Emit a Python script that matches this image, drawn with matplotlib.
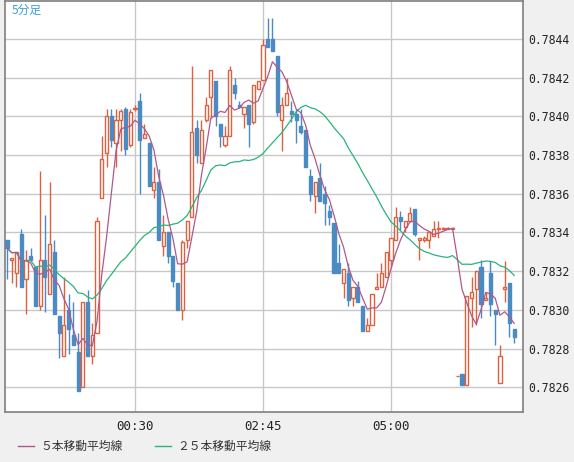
import numpy as np
import pandas as pd
import matplotlib
matplotlib.use('Agg')
import matplotlib.pyplot as plt
from matplotlib.lines import Line2D

plt.rcParams['font.family'] = ['Noto Sans CJK JP', 'DejaVu Sans']

# 5-minute candles, prices in units of 0.00001 (open, high, low, close)
opens = [78336, 78326, 78319, 78339, 78316, 78328, 78322, 78302, 78326, 78308,
         78330, 78297, 78276, 78300, 78287, 78278, 78260, 78304, 78276, 78288,
         78358, 78381, 78400, 78386, 78398, 78404, 78385, 78404, 78408, 78389,
         78386, 78362, 78366, 78333, 78340, 78328, 78314, 78300, 78336, 78348,
         78394, 78376, 78398, 78410, 78418, 78396, 78385, 78390, 78416, 78406,
         78401, 78406, 78397, 78414, 78419, 78440, 78440, 78431, 78398, 78406,
         78403, 78401, 78395, 78393, 78369, 78359, 78368, 78360, 78351, 78345,
         78324, 78314, 78319, 78306, 78312, 78302, 78289, 78292, 78311, 78312,
         78317, 78326, 78336, 78348, 78343, 78346, 78352, 78336, 78336, 78336,
         78338, 78342, 78342, 78342, 78342, 78266, 78267, 78261, 78306, 78311,
         78322, 78305, 78319, 78300, 78262, 78311, 78314, 78290]
highs = [78336, 78326, 78330, 78342, 78331, 78332, 78322, 78372, 78349, 78366,
         78336, 78297, 78317, 78308, 78304, 78288, 78304, 78310, 78293, 78348,
         78390, 78404, 78404, 78404, 78404, 78405, 78404, 78406, 78412, 78396,
         78386, 78374, 78373, 78349, 78340, 78328, 78314, 78336, 78346, 78426,
         78398, 78398, 78410, 78424, 78418, 78396, 78395, 78426, 78420, 78408,
         78405, 78406, 78416, 78418, 78440, 78451, 78451, 78431, 78410, 78420,
         78408, 78404, 78404, 78393, 78373, 78366, 78376, 78364, 78354, 78345,
         78334, 78321, 78324, 78312, 78315, 78302, 78296, 78308, 78319, 78324,
         78330, 78337, 78353, 78351, 78346, 78353, 78352, 78337, 78338, 78340,
         78346, 78346, 78343, 78343, 78343, 78266, 78267, 78307, 78317, 78320,
         78326, 78309, 78325, 78300, 78282, 78325, 78314, 78290]
lows = [78316, 78314, 78312, 78312, 78298, 78326, 78302, 78300, 78299, 78308,
        78298, 78275, 78276, 78277, 78282, 78258, 78260, 78276, 78272, 78288,
        78358, 78374, 78384, 78374, 78382, 78380, 78384, 78403, 78360, 78389,
        78364, 78358, 78336, 78328, 78324, 78312, 78300, 78295, 78332, 78348,
        78376, 78376, 78397, 78399, 78395, 78384, 78384, 78390, 78409, 78405,
        78394, 78384, 78396, 78414, 78419, 78436, 78434, 78400, 78382, 78406,
        78397, 78386, 78391, 78374, 78356, 78350, 78356, 78344, 78344, 78319,
        78319, 78306, 78302, 78302, 78304, 78289, 78289, 78292, 78311, 78312,
        78317, 78322, 78336, 78341, 78340, 78346, 78338, 78326, 78335, 78332,
        78338, 78337, 78342, 78342, 78342, 78266, 78261, 78261, 78291, 78292,
        78296, 78305, 78297, 78282, 78262, 78304, 78286, 78283]
closes = [78332, 78327, 78330, 78312, 78326, 78326, 78302, 78326, 78317, 78334,
          78298, 78288, 78292, 78290, 78282, 78258, 78304, 78276, 78287, 78346,
          78378, 78400, 78388, 78398, 78403, 78383, 78402, 78404, 78388, 78391,
          78364, 78366, 78336, 78340, 78328, 78315, 78300, 78335, 78346, 78392,
          78380, 78393, 78406, 78424, 78400, 78390, 78390, 78424, 78412, 78405,
          78405, 78396, 78416, 78418, 78437, 78436, 78434, 78402, 78406, 78412,
          78401, 78398, 78392, 78374, 78360, 78366, 78356, 78355, 78348, 78319,
          78319, 78321, 78305, 78312, 78304, 78289, 78292, 78308, 78312, 78319,
          78330, 78337, 78348, 78346, 78346, 78350, 78339, 78337, 78337, 78340,
          78342, 78342, 78342, 78342, 78342, 78266, 78261, 78307, 78309, 78320,
          78303, 78306, 78303, 78298, 78276, 78312, 78293, 78286]

tick_pos = [27, 54, 81]
tick_labels = ['00:30', '02:45', '05:00']
y_ticks = [0.7826, 0.7828, 0.7830, 0.7832, 0.7834, 0.7836, 0.7838, 0.7840, 0.7842, 0.7844]

o = np.array(opens) / 1e5
h = np.array(highs) / 1e5
l = np.array(lows) / 1e5
c = np.array(closes) / 1e5
x = np.arange(len(o))
ma5 = pd.Series(c).rolling(5, min_periods=1).mean()
ma25 = pd.Series(c).rolling(25, min_periods=1).mean()

up_col = '#dc6140'
dn_col = '#4a8bc4'
ma5_col = '#b0588c'
ma25_col = '#27b57a'

fig = plt.figure(figsize=(5.74, 4.62), dpi=100, facecolor='#f0f0f0')
ax = fig.add_axes([5 / 574, 50 / 462, 518 / 574, 411 / 462])
ax.set_facecolor('white')

for i in x:
    up = c[i] >= o[i]
    col = up_col if up else dn_col
    lo, hi = min(o[i], c[i]), max(o[i], c[i])
    ax.vlines(i, l[i], lo, color=col, lw=1)
    ax.vlines(i, hi, h[i], color=col, lw=1)
    ht = max(hi - lo, 0.0000005)
    ax.add_patch(plt.Rectangle((i - 0.33, lo), 0.66, ht,
                               facecolor='white' if up else col,
                               edgecolor=col, lw=1, zorder=3))

ax.plot(x, ma25, color=ma25_col, lw=0.9, zorder=4)
ax.plot(x, ma5, color=ma5_col, lw=0.9, zorder=4)

ax.set_xlim(-0.42, 108.86)
ax.set_ylim(0.782472, 0.784596)
ax.set_xticks(tick_pos)
ax.set_xticklabels(tick_labels, family='DejaVu Sans Mono', fontsize=9, color='#222222')
ax.set_yticks(y_ticks)
ax.set_yticklabels(['%.4f' % v for v in y_ticks], family='DejaVu Sans Mono',
                   fontsize=8.3, color='#222222')
ax.yaxis.tick_right()
ax.tick_params(axis='y', length=0, pad=4)
ax.tick_params(axis='x', length=0, pad=6)
ax.grid(True, color='#c8c8c8', lw=1)
ax.set_axisbelow(True)
for s in ax.spines.values():
    s.set_color('#808080')
    s.set_linewidth(1.2)

ax.text(0.012, 0.992, '5分足', transform=ax.transAxes, ha='left', va='top',
        fontsize=8.5, color='#3aa0d8')

# legend drawn under the plot
fig.add_artist(Line2D([18 / 574, 34 / 574], [16 / 462, 16 / 462], color=ma5_col, lw=1))
fig.text(40 / 574, 16 / 462, '５本移動平均線', fontsize=8.5, va='center', color='#333333')
fig.add_artist(Line2D([155 / 574, 171 / 574], [16 / 462, 16 / 462], color=ma25_col, lw=1))
fig.text(177 / 574, 16 / 462, '２５本移動平均線', fontsize=8.5, va='center', color='#333333')

fig.savefig('out.png', dpi=100, facecolor=fig.get_facecolor())
